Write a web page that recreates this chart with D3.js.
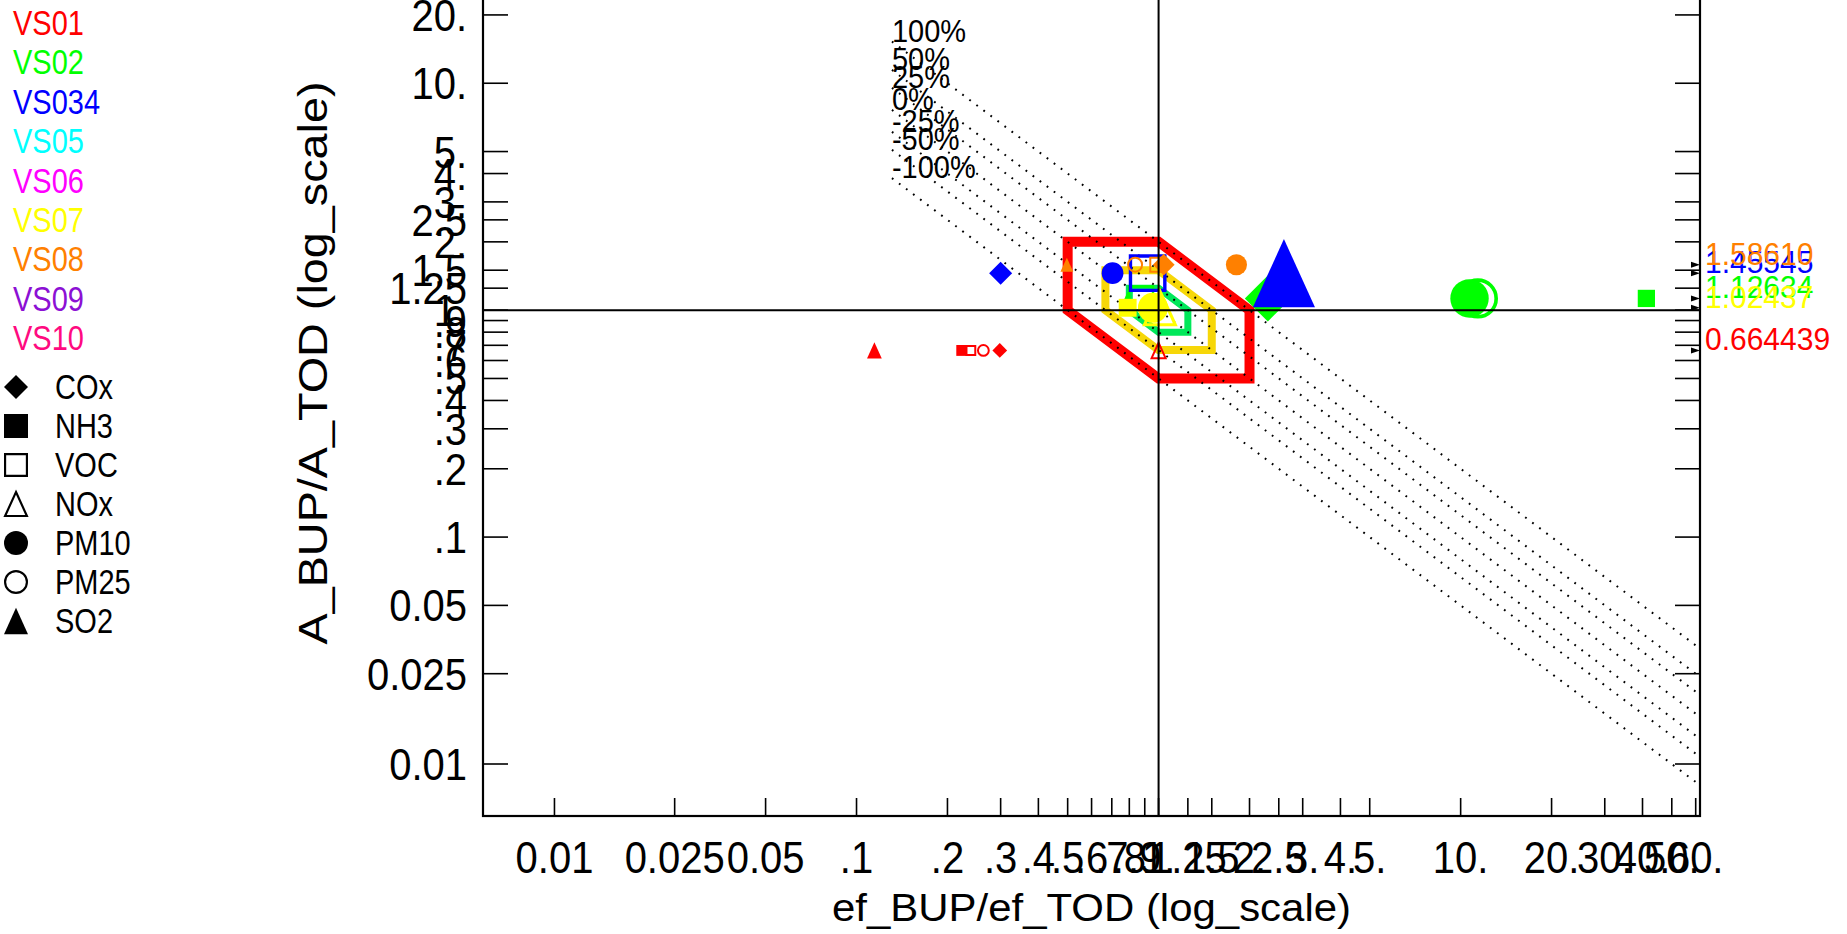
<!DOCTYPE html>
<html>
<head>
<meta charset="utf-8">
<script src="https://cdn.jsdelivr.net/npm/d3@7"></script>
<style>
  html, body { margin: 0; padding: 0; background: #fff; overflow: hidden; }
  svg { display: block; }
  text { font-family: "Liberation Sans", Arial, sans-serif; fill: #000; }
</style>
</head>
<body>
<svg id="chart" width="1847" height="934"></svg>
<script>
// legend / series
const seriesNames = ['VS01', 'VS02', 'VS034', 'VS05', 'VS06', 'VS07', 'VS08', 'VS09', 'VS10'];
const seriesColors = ['#ff0000', '#00ff00', '#0000ff', '#00ffff', '#ff00ff', '#ffff00', '#ff8000', '#8c10d4', '#ff0a80'];
const pollutants = ['COx', 'NH3', 'VOC', 'NOx', 'PM10', 'PM25', 'SO2'];
const pollutantShapes = ['diamond', 'square', 'square', 'triangle', 'circle', 'circle', 'triangle'];
const pollutantFilled = [true, true, false, false, true, false, true];

// A_BUP/A_TOD per series (one value each)
const ratioSeries = ['VS01', 'VS02', 'VS034', 'VS07', 'VS08'];
const ratioValues = [0.664439, 1.12634, 1.45545, 1.02437, 1.58610];

// ef_BUP/ef_TOD per pollutant: [pollutant, ratio, relative marker size]
const vs01 = [['SO2', 0.1146, 0.23], ['NH3', 0.223, 0.17], ['VOC', 0.239, 0.17], ['PM25', 0.263, 0.2], ['COx', 0.298, 0.23], ['NOx', 1.0, 0.25]];
const vs02 = [['COx', 2.30, 0.72], ['PM10', 10.7, 0.6], ['PM25', 11.4, 0.63], ['NH3', 41.2, 0.27], ['VOC', 0.875, 0.41], ['SO2', 0.79, 0.19]];
const vs034 = [['COx', 0.30, 0.36], ['PM10', 0.704, 0.34], ['VOC', 0.92, 0.59], ['SO2', 2.60, 0.97]];
const vs07 = [['NH3', 0.79, 0.28], ['PM10', 0.958, 0.47], ['NOx', 1.01, 0.53]];
const vs08 = [['SO2', 0.497, 0.2], ['PM25', 0.836, 0.25], ['VOC', 0.99, 0.25], ['COx', 1.04, 0.34], ['PM10', 1.81, 0.33]];
const pointSets = [vs01, vs02, vs034, vs07, vs08];

// agreement bands and diagonal x*y levels
const bandLimits = [2, 1.5, 1.25];
const bandColors = ['#ff0000', '#f7d708', '#00e85a'];
const diagLabels = ['100%', '50%', '25%', '0%', '-25%', '-50%', '-100%'];
const diagProducts = [2, 1.5, 1.25, 1, 0.8, 1 / 1.5, 0.5];
const diagStart = 0.131;

// axes
const xDomain = [0.0058, 62];
const yDomain = [0.0059, 58];
const xTicks = [0.01, 0.025, 0.05, 0.1, 0.2, 0.3, 0.4, 0.5, 0.6, 0.7, 0.8, 0.9, 1, 1.25, 1.5, 2, 2.5, 3, 4, 5, 10, 20, 30, 40, 50, 60];
const xTickLabels = ['0.01', '0.025', '0.05', '.1', '.2', '.3', '.4', '.5', '.6', '.7', '.8', '.9', '1.', '1.25', '1.5', '2.', '2.5', '3.', '4.', '5.', '10.', '20.', '30.', '40.', '50.', '60.'];
const yTicks = [0.01, 0.025, 0.05, 0.1, 0.2, 0.3, 0.4, 0.5, 0.6, 0.7, 0.8, 0.9, 1, 1.25, 1.5, 2, 2.5, 3, 4, 5, 10, 20];
const yTickLabels = ['0.01', '0.025', '0.05', '.1', '.2', '.3', '.4', '.5', '.6', '.7', '.8', '.9', '1.', '1.25', '1.5', '2.', '2.5', '3.', '4.', '5.', '10.', '20.'];

const svg = d3.select('#chart');
const plotLeft = 483, plotRight = 1700, plotBottom = 816, plotTop = -90;

const x = d3.scaleLog().domain(xDomain).range([plotLeft, plotRight]);
const y = d3.scaleLog().domain(yDomain).range([plotBottom, plotTop]);
const sizeScale = d3.scaleLinear().domain([0, 1]).range([0, 64]);

svg.append('rect').attr('width', 1847).attr('height', 934).attr('fill', '#fff');

// tall, narrow-ish lettering like the plotting package's vector font
function addText(parent, tx, ty, str, size, anchor = 'start', stretch = 1.13) {
  return parent.append('text')
    .attr('transform', `translate(${tx},${ty}) scale(1,${stretch})`)
    .attr('text-anchor', anchor)
    .attr('font-size', size)
    .text(str);
}

function shapePath(shape, s) {
  const h = s / 2;
  if (shape === 'diamond') return `M0,${-h}L${h},0L0,${h}L${-h},0Z`;
  if (shape === 'square') return `M${-h},${-h}H${h}V${h}H${-h}Z`;
  if (shape === 'triangle') {
    const t = s * 1.1 / 2;
    return `M0,${-t}L${h},${t}L${-h},${t}Z`;
  }
  return d3.arc()({ innerRadius: 0, outerRadius: h, startAngle: 0, endAngle: 2 * Math.PI });
}

function drawMarker(g, pollutant, s, color) {
  const i = pollutants.indexOf(pollutant);
  const filled = pollutantFilled[i];
  const sw = Math.max(2, s * 0.09);
  const shape = pollutantShapes[i];
  const el = shape === 'circle'
    ? g.append('circle').attr('r', filled ? s / 2 : s / 2 - sw / 2)
    : g.append('path').attr('d', shapePath(shape, filled ? s : s - sw));
  el.attr('fill', filled ? color : 'none')
    .attr('stroke', color)
    .attr('stroke-width', filled ? 0 : sw)
    .attr('stroke-linejoin', 'miter');
}

// bands (hexagons)
const line = d3.line().x((d) => x(d[0])).y((d) => y(d[1]));
const plot = svg.append('g');
bandLimits.forEach((b, i) => {
  const pts = [[1 / b, b], [1, b], [b, 1], [b, 1 / b], [1, 1 / b], [1 / b, 1]];
  plot.append('path')
    .attr('d', line(pts) + 'Z')
    .attr('fill', 'none')
    .attr('stroke', bandColors[i])
    .attr('stroke-width', [10, 8, 7][i])
    .attr('stroke-linejoin', 'miter');
});

// diagonal dotted lines x*y = c
diagProducts.forEach((c, i) => {
  const x1 = xDomain[1];
  plot.append('path')
    .attr('d', line([[diagStart, c / diagStart], [x1, c / x1]]))
    .attr('fill', 'none')
    .attr('stroke', '#000')
    .attr('stroke-width', 2)
    .attr('stroke-dasharray', '1.8,7');
  addText(plot, x(diagStart), y(c / diagStart), diagLabels[i], 29, 'start', 1.05);
});

// markers
pointSets.forEach((set, k) => {
  const name = ratioSeries[k];
  const color = seriesColors[seriesNames.indexOf(name)];
  const yv = ratioValues[k];
  set.forEach(([pol, ef, w]) => {
    const g = plot.append('g').attr('transform', `translate(${x(ef)},${y(yv)})`);
    drawMarker(g, pol, sizeScale(w), color);
  });
});

// reference lines at 1
plot.append('line').attr('x1', plotLeft).attr('x2', plotRight).attr('y1', y(1)).attr('y2', y(1))
  .attr('stroke', '#000').attr('stroke-width', 2);
plot.append('line').attr('x1', x(1)).attr('x2', x(1)).attr('y1', plotTop).attr('y2', plotBottom)
  .attr('stroke', '#000').attr('stroke-width', 2);

// frame
svg.append('rect').attr('x', plotLeft).attr('y', plotTop).attr('width', plotRight - plotLeft).attr('height', plotBottom - plotTop)
  .attr('fill', 'none').attr('stroke', '#000').attr('stroke-width', 2.2);

// x ticks
const xAxis = svg.append('g');
xTicks.forEach((t, i) => {
  xAxis.append('line').attr('x1', x(t)).attr('x2', x(t)).attr('y1', plotBottom).attr('y2', plotBottom - 18)
    .attr('stroke', '#000').attr('stroke-width', 1.6);
  addText(xAxis, x(t), 873, xTickLabels[i], 40, 'middle');
});

// y ticks, both sides
const yAxis = svg.append('g');
yTicks.forEach((t, i) => {
  yAxis.append('line').attr('x1', plotLeft).attr('x2', plotLeft + 25).attr('y1', y(t)).attr('y2', y(t))
    .attr('stroke', '#000').attr('stroke-width', 1.6);
  yAxis.append('line').attr('x1', plotRight - 25).attr('x2', plotRight).attr('y1', y(t)).attr('y2', y(t))
    .attr('stroke', '#000').attr('stroke-width', 1.6);
  addText(yAxis, 467, y(t) + 16, yTickLabels[i], 40, 'end');
});

// axis titles
svg.append('text').attr('x', (plotLeft + plotRight) / 2).attr('y', 921).attr('text-anchor', 'middle')
  .attr('font-size', 38).attr('textLength', 519).attr('lengthAdjust', 'spacingAndGlyphs')
  .text('ef_BUP/ef_TOD (log_scale)');
svg.append('text').attr('transform', `translate(327,${(plotTop + plotBottom) / 2}) rotate(-90)`)
  .attr('text-anchor', 'middle').attr('font-size', 41)
  .attr('textLength', 563).attr('lengthAdjust', 'spacingAndGlyphs')
  .text('A_BUP/A_TOD (log_scale)');

// right-side value labels
const fmt = d3.format('.6g');
ratioSeries.forEach((name, k) => {
  const color = seriesColors[seriesNames.indexOf(name)];
  const yy = y(ratioValues[k]);
  svg.append('path')
    .attr('d', `M${plotRight - 9},${yy - 3}L${plotRight},${yy}L${plotRight - 9},${yy + 3}Z`)
    .attr('fill', '#000');
  addText(svg, plotRight + 5, yy, fmt(ratioValues[k]), 30, 'start', 1.05).style('fill', color);
});

// legend: series
seriesNames.forEach((name, i) => {
  addText(svg, 13, 35 + i * 39.4, name, 29, 'start', 1.18).style('fill', seriesColors[i]);
});

// legend: pollutant symbols
pollutants.forEach((pol, i) => {
  const cy = 387 + i * 39;
  const g = svg.append('g').attr('transform', `translate(16,${cy})`);
  drawMarker(g, pol, 24, '#000');
  addText(svg, 55, cy + 12, pol, 29, 'start', 1.18);
});
</script>
</body>
</html>
